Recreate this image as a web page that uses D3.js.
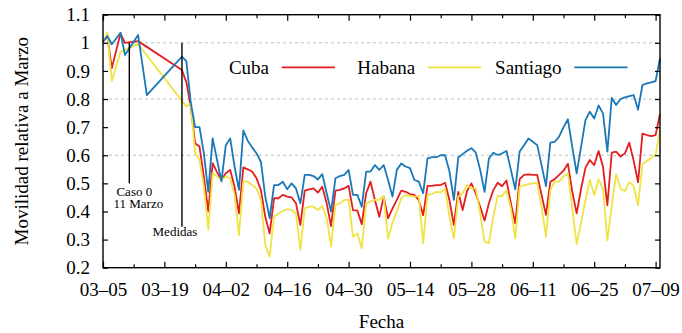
<!DOCTYPE html>
<html>
<head>
<meta charset="utf-8">
<script src="https://cdn.jsdelivr.net/npm/d3@7"></script>
<style>
  body { margin: 0; background: #fff; }
  text { font-family: "Liberation Serif", "Times New Roman", serif; fill: #000; }
</style>
</head>
<body>
<svg id="chart" width="682" height="333"></svg>
<script>
// daily series from 2020-03-05 to 2020-07-10, null = no data that day
const firstDay = "2020-03-05";
const lastDay = "2020-07-10";

const cuba = [
  1.005, 1.022, 0.909, null, 1.034, 1.0, null, null, 1.006,
  null, null, null, null, null, null, null, null, null,
  0.903, 0.86, 0.773,
  0.643, 0.631, 0.524, 0.40, 0.572, 0.54, 0.512, 0.536, 0.548, 0.488, 0.393,
  0.557, 0.55, 0.542, 0.518, 0.477, 0.381, 0.322, 0.447, 0.447, 0.459,
  0.453, 0.45, 0.429, 0.352, 0.474, 0.479, 0.482, 0.467, 0.488, 0.429,
  0.348, 0.474, 0.477, 0.482, 0.491, 0.405, 0.403, 0.355, 0.465, 0.506,
  0.441, 0.381, 0.453, 0.376, 0.41, 0.441, 0.474, 0.47, 0.462, 0.459,
  0.44, 0.387, 0.491, 0.491, 0.494, 0.494, 0.502, 0.44, 0.352, 0.47,
  0.405, 0.473, 0.5, 0.464, 0.417, 0.368, 0.43, 0.476, 0.502, 0.49,
  0.51, 0.429, 0.358, 0.515, 0.53, 0.532, 0.53, 0.53, 0.459, 0.388,
  0.506, 0.515, 0.53, 0.545, 0.57, 0.47, 0.393, 0.48, 0.555, 0.583,
  0.565, 0.615, 0.56, 0.422, 0.609, 0.613, 0.595, 0.607, 0.645, 0.58,
  0.504, 0.677, 0.672, 0.668, 0.672, 0.747
];

const habana = [
  1.0, 1.036, 0.864, null, 0.968, 0.975, null, null, 0.996,
  null, null, null, null, null, null, null, null, null, null,
  0.773, 0.785,
  0.608, 0.584, 0.488, 0.335, 0.536, 0.524, 0.512, 0.524, 0.518, 0.459, 0.316,
  0.508, 0.506, 0.494, 0.482, 0.441, 0.281, 0.239, 0.381, 0.393, 0.402,
  0.408, 0.405, 0.393, 0.263, 0.411, 0.417, 0.417, 0.405, 0.42, 0.376,
  0.275, 0.423, 0.429, 0.441, 0.441, 0.31, 0.322, 0.269, 0.429, 0.435,
  0.441, 0.441, 0.455, 0.304, 0.36, 0.40, 0.447, 0.459, 0.455, 0.453,
  0.455, 0.287, 0.459, 0.462, 0.47, 0.467, 0.482, 0.381, 0.304, 0.453,
  0.465, 0.494, 0.482, 0.482, 0.393, 0.293, 0.287, 0.382, 0.455, 0.455,
  0.476, 0.411, 0.304, 0.488, 0.494, 0.497, 0.5, 0.502, 0.417, 0.31,
  0.476, 0.506, 0.506, 0.524, 0.535, 0.41, 0.284, 0.36, 0.44, 0.512,
  0.458, 0.515, 0.48, 0.297, 0.42, 0.533, 0.482, 0.472, 0.505, 0.49,
  0.422, 0.568, 0.58, 0.59, 0.602, 0.69
];

const santiago = [
  1.004, 1.024, 0.995, null, 1.036, 0.957, 0.98, null, 1.028, null, 0.814,
  null, null, null, null, null, null, null,
  0.951, 0.935, 0.79,
  0.70, 0.70, 0.607, 0.47, 0.66, 0.584, 0.507, 0.636, 0.66, 0.56, 0.477,
  0.688, 0.652, 0.628, 0.607, 0.577, 0.453, 0.376, 0.494, 0.494, 0.506,
  0.479, 0.50, 0.482, 0.429, 0.53, 0.53, 0.526, 0.514, 0.533, 0.465,
  0.40, 0.518, 0.526, 0.53, 0.548, 0.459, 0.459, 0.417, 0.542, 0.542,
  0.565, 0.548, 0.565, 0.512, 0.453, 0.548, 0.571, 0.56, 0.554, 0.512,
  0.506, 0.465, 0.589, 0.593, 0.593, 0.60, 0.60, 0.542, 0.441, 0.592,
  0.604, 0.616, 0.625, 0.609, 0.548, 0.47, 0.589, 0.609, 0.601, 0.607,
  0.615, 0.548, 0.479, 0.613, 0.636, 0.66, 0.648, 0.636, 0.565, 0.49,
  0.645, 0.648, 0.666, 0.70, 0.728, 0.63, 0.536, 0.63, 0.725, 0.755,
  0.731, 0.777, 0.749, 0.613, 0.804, 0.779, 0.8, 0.806, 0.81, 0.814,
  0.762, 0.85, 0.856, 0.859, 0.864, 0.945
];

const seriesNames = ["Cuba", "Habana", "Santiago"];
const seriesColors = ["#e41e1e", "#efe444", "#1a78b8"];

const xTickLabels = ["03-05", "03-19", "04-02", "04-16", "04-30", "05-14", "05-28", "06-11", "06-25", "07-09"];
const xMinorLabels = ["03-12", "03-26", "04-09", "04-23", "05-07", "05-21", "06-04", "06-18", "07-02"];
const yTicks = [0.2, 0.3, 0.4, 0.5, 0.6, 0.7, 0.8, 0.9, 1.0, 1.1];
const yGrid = [0.6, 0.8, 1.0];

const events = [
  { date: "2020-03-11", top: 1.0, bottom: 0.5, text: ["Caso 0", "11 Marzo"] },
  { date: "2020-03-23", top: 1.0, bottom: 0.346, text: ["Medidas"] }
];

// layout
const width = 682, height = 333;
const margin = { top: 14.7, right: 22, bottom: 65.3, left: 103 };
const serif = "'Liberation Serif', 'Times New Roman', 'DejaVu Serif', serif";

const parse = d3.timeParse("%Y-%m-%d");
const days = d3.timeDay.range(parse(firstDay), d3.timeDay.offset(parse(lastDay), 1));

const svg = d3.select("#chart");

const x = d3.scaleTime()
  .domain([parse(firstDay), parse(lastDay)])
  .range([margin.left, width - margin.right]);

const y = d3.scaleLinear()
  .domain([0.2, 1.1])
  .range([height - margin.bottom, margin.top]);

const x0 = margin.left, x1 = width - margin.right;
const y0 = height - margin.bottom, y1 = margin.top;

// dashed grid
svg.append("g")
  .selectAll("line")
  .data(yGrid)
  .join("line")
  .attr("x1", x0).attr("x2", x1)
  .attr("y1", d => y(d)).attr("y2", d => y(d))
  .attr("stroke", "#b8b8b8")
  .attr("stroke-width", 0.9)
  .attr("stroke-dasharray", "3,3");

// series lines (gnuplot joins across missing days)
const line = d3.line()
  .x(d => x(d.date))
  .y(d => y(d.v));

[cuba, habana, santiago].forEach((vals, i) => {
  const pts = vals.map((v, k) => ({ date: days[k], v: v })).filter(d => d.v != null);
  svg.append("path")
    .datum(pts)
    .attr("fill", "none")
    .attr("stroke", seriesColors[i])
    .attr("stroke-width", 1.8)
    .attr("stroke-linejoin", "round")
    .attr("d", line);
});

// event markers
events.forEach((ev, i) => {
  const ex = x(parse(ev.date));
  svg.append("line")
    .attr("x1", ex).attr("x2", ex)
    .attr("y1", y(ev.top)).attr("y2", y(ev.bottom))
    .attr("stroke", "#000")
    .attr("stroke-width", 1.4);
  if (i === 0) {
    svg.append("text")
      .attr("x", ex + 5).attr("y", y(ev.bottom) + 12.5)
      .attr("font-size", 13).attr("font-family", serif)
      .attr("text-anchor", "middle")
      .text(ev.text[0]);
    svg.append("text")
      .attr("x", ex + 9).attr("y", y(ev.bottom) + 24.5)
      .attr("font-size", 13).attr("font-family", serif)
      .attr("text-anchor", "middle")
      .text(ev.text[1]);
  } else {
    svg.append("text")
      .attr("x", ex - 7).attr("y", y(ev.bottom) + 9.5)
      .attr("font-size", 13).attr("font-family", serif)
      .attr("text-anchor", "middle")
      .text(ev.text[0]);
  }
});

// axes
const majorDates = xTickLabels.map(s => parse("2020-" + s));
const minorDates = xMinorLabels.map(s => parse("2020-" + s));
const fmt = d3.timeFormat("%m\u2013%d");

function styleAxis(g) {
  g.attr("font-family", serif);
  g.select(".domain").remove();
  g.selectAll(".tick line").attr("stroke", "#000").attr("stroke-width", 1.2);
  g.selectAll("text").attr("font-size", 19).attr("fill", "#000");
}

svg.append("g")
  .attr("transform", `translate(0,${y0})`)
  .call(d3.axisBottom(x).tickValues(majorDates).tickFormat(fmt).tickSize(-6).tickPadding(15))
  .call(styleAxis);
svg.append("g")
  .attr("transform", `translate(0,${y0})`)
  .call(d3.axisBottom(x).tickValues(minorDates).tickFormat("").tickSize(-3.5))
  .call(styleAxis);
svg.append("g")
  .attr("transform", `translate(0,${y1})`)
  .call(d3.axisTop(x).tickValues(majorDates).tickFormat("").tickSize(-6))
  .call(styleAxis);
svg.append("g")
  .attr("transform", `translate(0,${y1})`)
  .call(d3.axisTop(x).tickValues(minorDates).tickFormat("").tickSize(-3.5))
  .call(styleAxis);

svg.append("g")
  .attr("transform", `translate(${x0},0)`)
  .call(d3.axisLeft(y).tickValues(yTicks).tickFormat(d3.format("~g")).tickSize(-5).tickPadding(13))
  .call(styleAxis);
svg.append("g")
  .attr("transform", `translate(${x1},0)`)
  .call(d3.axisRight(y).tickValues(yTicks).tickFormat("").tickSize(-5))
  .call(styleAxis);

// frame
svg.append("rect")
  .attr("x", x0).attr("y", y1)
  .attr("width", x1 - x0).attr("height", y0 - y1)
  .attr("fill", "none")
  .attr("stroke", "#000")
  .attr("stroke-width", 1.4);

// axis titles
svg.append("text")
  .attr("x", (x0 + x1) / 2)
  .attr("y", 328)
  .attr("text-anchor", "middle")
  .attr("font-size", 19)
  .attr("font-family", serif)
  .text("Fecha");

svg.append("text")
  .attr("transform", `translate(28,${(y0 + y1) / 2}) rotate(-90)`)
  .attr("text-anchor", "middle")
  .attr("font-size", 19)
  .attr("font-family", serif)
  .text("Movilidad relativa a Marzo");

// legend
const legend = svg.append("g");
seriesNames.forEach((name, i) => {
  const lx = 269 + i * 146.3;
  legend.append("text")
    .attr("x", lx)
    .attr("y", 74)
    .attr("text-anchor", "end")
    .attr("font-size", 19)
    .attr("font-family", serif)
    .text(name);
  legend.append("line")
    .attr("x1", lx + 12.7).attr("x2", lx + 66)
    .attr("y1", 67.3).attr("y2", 67.3)
    .attr("stroke", seriesColors[i])
    .attr("stroke-width", 1.8);
});
</script>
</body>
</html>
